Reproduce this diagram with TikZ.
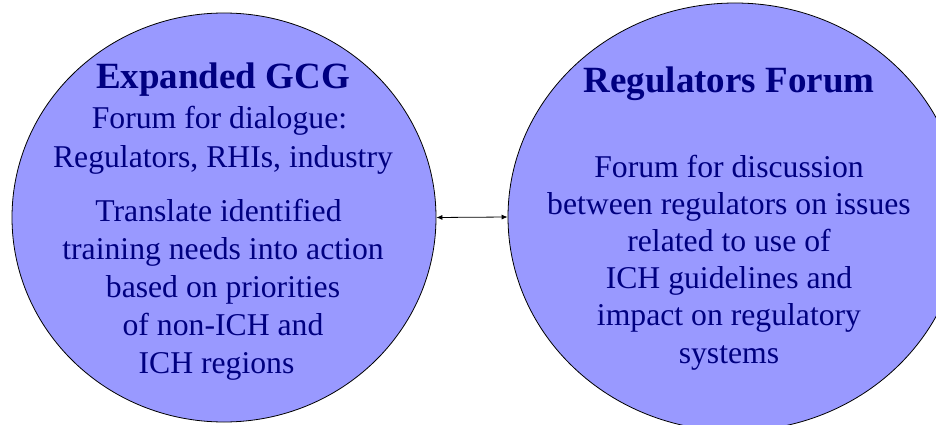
\documentclass[tikz,border=0pt]{standalone}
\usepackage{fontspec}
\setmainfont{Liberation Serif}
\usetikzlibrary{shapes.geometric,arrows.meta}
\definecolor{circfill}{HTML}{9999FF}
\definecolor{navytext}{HTML}{000080}
\begin{document}
\begin{tikzpicture}[x=1pt,y=-1pt,
  bubble/.style={draw=black,line width=0.8pt,fill=circfill,ellipse,inner sep=0pt},
  title/.style={text=navytext,font=\fontsize{37}{44}\selectfont\bfseries,inner sep=0pt,anchor=base},
  body/.style={text=navytext,align=center,inner sep=0pt,anchor=base},
  link/.style={line width=0.8pt,{Latex[length=6pt,width=5pt]}-{Latex[length=6pt,width=5pt]}}]
\useasboundingbox (0,0) rectangle (936,425);
\node[bubble,minimum width=424pt,minimum height=409pt] (L) at (224,217.5) {};
\node[bubble,minimum width=454pt,minimum height=428pt] (R) at (735,217) {};
\draw[link] (L.east) -- (R.west);
\node[title] (lt) at (223,89) {Expanded GCG};
\node[body,font=\fontsize{31.7}{39}\selectfont] (lb1) at (223,167) {Forum for dialogue:\hspace*{7pt}\\Regulators, RHIs, industry};
\node[body,font=\fontsize{31.7}{38}\selectfont] (lb2) at (223,373) {Translate identified\hspace*{9pt}\\training needs into action\\based on priorities\hspace*{9pt}\\of non-ICH and\hspace*{6pt}\\ICH regions\hspace*{13pt}};
\node[title] (rt) at (729,93) {Regulators Forum};
\node[body,font=\fontsize{31.7}{37.2}\selectfont] (rb) at (729,363) {Forum for discussion\\between regulators on issues\\related to use of\hspace*{8pt}\\ICH guidelines and\hspace*{3pt}\\impact on regulatory\\systems};
\end{tikzpicture}
\end{document}
